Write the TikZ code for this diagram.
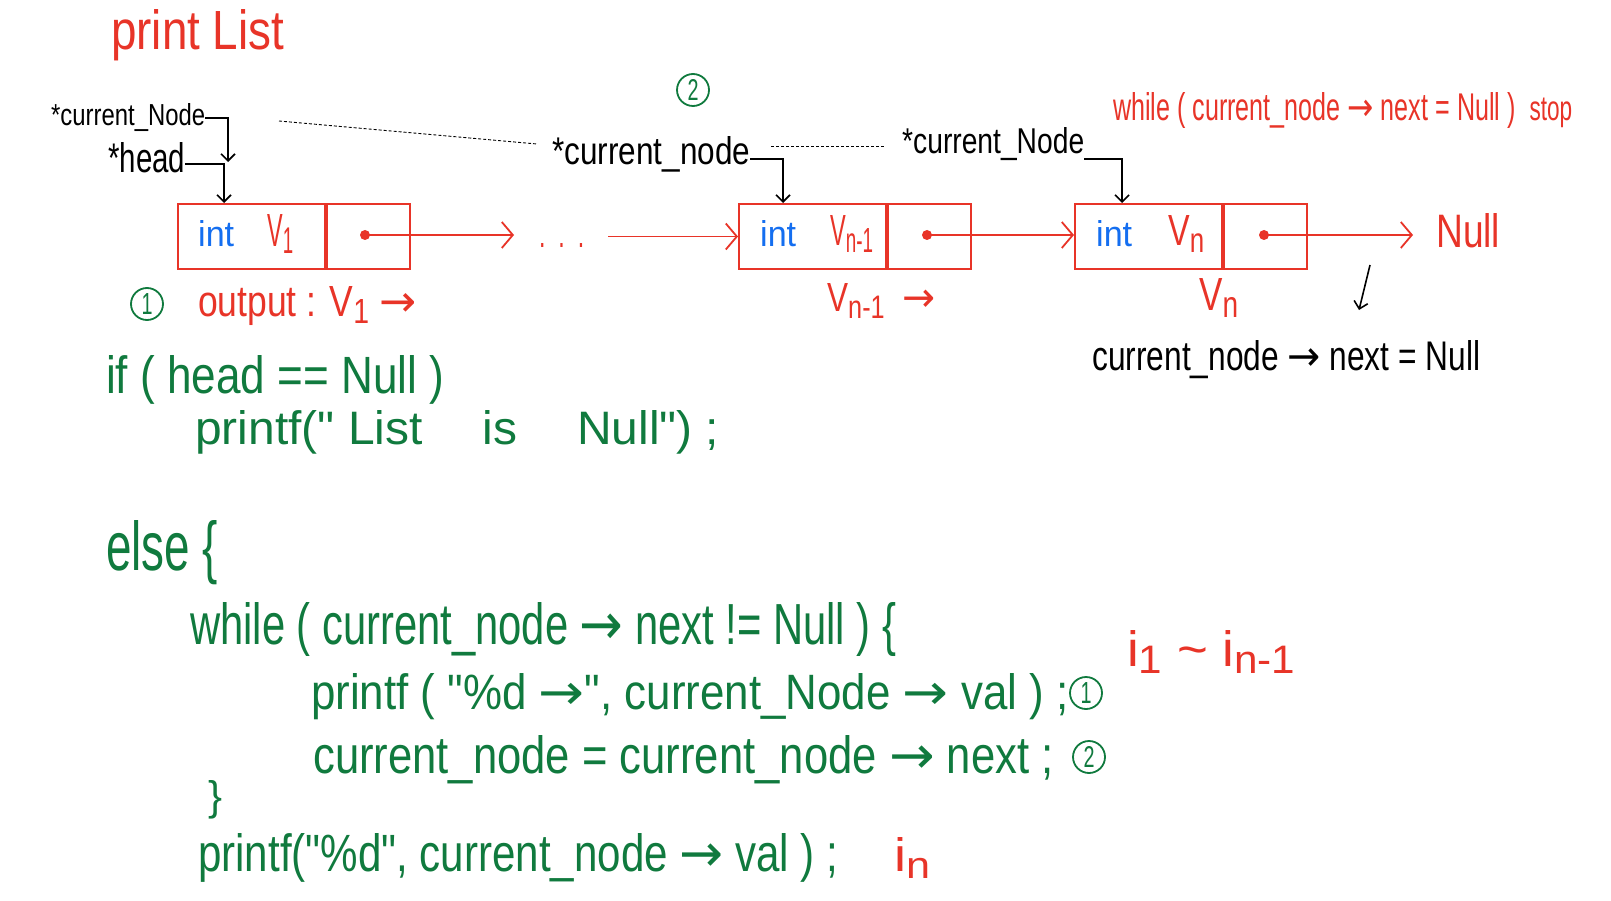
\documentclass[tikz,border=0pt]{standalone}
\usepackage{fontspec}
\setmainfont{Liberation Sans}
\newfontfamily\hand[FakeStretch=0.8]{Liberation Sans}
\newfontfamily\arrf{DejaVu Sans}
\usetikzlibrary{arrows.meta}
\definecolor{hred}{RGB}{232,52,40}
\definecolor{hgreen}{RGB}{16,122,62}
\definecolor{hblue}{RGB}{20,110,240}
\newcommand\fwh[3]{\resizebox{#1pt}{#2pt}{\hand #3}}
\newcommand\lowtxt[1]{\raisebox{-0.3ex}{\footnotesize #1}}
\newcommand\ra{{\arrf →}}
\begin{document}
\begin{tikzpicture}[x=1pt,y=-1pt,
 txt/.style={inner sep=0pt, anchor=west},
 blk/.style={txt, text=black},
 rd/.style={txt, text=hred},
 gr/.style={txt, text=hgreen},
 bl/.style={txt, text=hblue},
 databox/.style={draw=hred, line width=2pt, minimum width=147pt, minimum height=65pt, anchor=north west, inner sep=0},
 ptrbox/.style={databox, minimum width=83pt},
 ptdot/.style={circle, fill=hred, inner sep=0, minimum size=10pt},
 redarr/.style={draw=hred, line width=1.8pt, -{Straight Barb[length=11pt,width=26pt,line width=1.8pt]}},
 blkarr/.style={draw=black, line width=1.6pt, -{Straight Barb[length=7pt,width=14pt]}},
 dashline/.style={draw=black, line width=0.9pt, dash pattern=on 3pt off 2pt},
 num/.style={circle, draw=hgreen, line width=1.8pt, text=hgreen, inner sep=0, minimum size=32pt}
]
\fill[white] (0,0) rectangle (1611,901);
\useasboundingbox (0,0) rectangle (1611,901);

% title
\node[rd] (title) at (111,35) {\fwh{173}{40}{print List}};

% pointer labels
\node[blk] (cn1) at (51,118) {\fwh{154}{22}{*current\_Node}};
\node[blk] (hd) at (108,158) {\fwh{77}{30}{*head}};
\node[blk] (cn2) at (552,154) {\fwh{198}{28}{*current\_node}};
\node[blk] (cn3) at (902,144) {\fwh{182}{26}{*current\_Node}};
\node[num] (c2top) at (693,90) {\fwh{11}{21}{2}};
\node[rd] (wstop) at (1113,111) {\fwh{459}{28}{while ( current\_node \ra{} next = Null )\ \ {\small stop}}};

% boxes
\node[databox] (d1) at (177,203) {};
\node[ptrbox] (q1) at (d1.north east) {};
\node[databox] (d2) at (738,203) {};
\node[ptrbox] (q2) at (d2.north east) {};
\node[databox] (d3) at (1074,203) {};
\node[ptrbox] (q3) at (d3.north east) {};

\node[bl] (int1) at (198,234) {\fwh{36}{26}{int}};
\node[rd] (v1) at (267,234) {\fwh{26}{32}{V\lowtxt{1}}};
\node[bl] (int2) at (760,234) {\fwh{36}{26}{int}};
\node[rd] (v2) at (830,234) {\fwh{43}{30}{V\lowtxt{n-1}}};
\node[bl] (int3) at (1096,234) {\fwh{36}{26}{int}};
\node[rd] (v3) at (1168,234) {\fwh{36}{30}{V\lowtxt{n}}};

\node[ptdot] (dot1) at (365,235) {};
\node[ptdot] (dot2) at (927,235) {};
\node[ptdot] (dot3) at (1264,235) {};

\node[rd] (ell) at (539,246) {\fwh{45}{4}{.\ \ .\ \ .}};
\node[rd] (null) at (1436,231) {\fwh{64}{34}{Null}};

\draw[redarr, shorten >=25pt] (dot1.center) -- (dot1.center -| ell.west);
\draw[redarr, shorten <=24pt] (ell.east |- d2.west) -- (d2.west);
\draw[redarr] (dot2.center) -- (dot2.center -| d3.west);
\draw[redarr, shorten >=23pt] (dot3.center) -- (dot3.center -| null.west);

% pointer brackets
\coordinate (hdt) at (228,162);
\coordinate (t1) at (224,203);
\coordinate (t2) at (783,203);
\coordinate (t3) at (1122,203);
\draw[blkarr] (cn1.east) -| (hdt);
\draw[blkarr] ([yshift=-6pt]hd.east) -| (t1);
\draw[blkarr] ([yshift=-5pt]cn2.east) -| (t2);
\draw[blkarr] ([yshift=-15pt]cn3.east) -| (t3);

% dashed lines
\coordinate (dA) at (279,121);
\coordinate (dB) at (537,144);
\coordinate (dC) at (771,146);
\coordinate (dD) at (884,146);
\draw[dashline] (dA) -- (dB);
\draw[dashline] (dC) -- (dD);

% labels under boxes
\node[num] (c1) at (147,304) {\fwh{11}{21}{1}};
\node[rd] (out) at (198,306) {\fwh{218}{30}{output : V\lowtxt{1} \ra}};
\node[rd] (vn1b) at (827,301) {\fwh{108}{28}{V\lowtxt{n-1}\ \ \ra}};
\node[rd] (vnb) at (1199,298) {\fwh{39}{32}{V\lowtxt{n}}};
\coordinate (da1) at (1370,265);
\coordinate (da2) at (1359,310);
\draw[blkarr] (da1) -- (da2);
\node[blk] (cnn) at (1092,360) {\fwh{388}{30}{current\_node \ra{} next = Null}};

% code
\node[gr] (ifl) at (106,380) {\fwh{338}{38}{if ( head == Null )}};
\node[gr] (pf1) at (195,432) {\fwh{524}{34}{printf(" List\quad is\quad Null") ;}};
\node[gr] (elsel) at (106,553) {\fwh{112}{50}{else \{}};
\node[gr] (wh) at (190,630) {\fwh{706}{42}{while ( current\_node \ra{} next != Null ) \{}};
\node[gr] (pf2) at (311,697) {\fwh{757}{36}{printf ( "\%d \ra", current\_Node \ra{} val ) ;}};
\node[num] (n1) at (1086,693) {\fwh{11}{21}{1}};
\node[gr] (asg) at (313,760) {\fwh{740}{38}{current\_node = current\_node \ra{} next ;}};
\node[num] (n2) at (1089,757) {\fwh{11}{21}{2}};
\node[gr] (rb) at (208,800) {\fwh{14}{30}{\}}};
\node[gr] (pf3) at (198,858) {\fwh{640}{38}{printf("\%d", current\_node \ra{} val ) ;}};
\node[rd] (inr) at (894,858) {\fwh{36}{34}{i\lowtxt{n}}};
\node[rd] (range) at (1127,652) {\fwh{168}{36}{i\lowtxt{1} \textasciitilde\ i\lowtxt{n-1}}};
\end{tikzpicture}
\end{document}
